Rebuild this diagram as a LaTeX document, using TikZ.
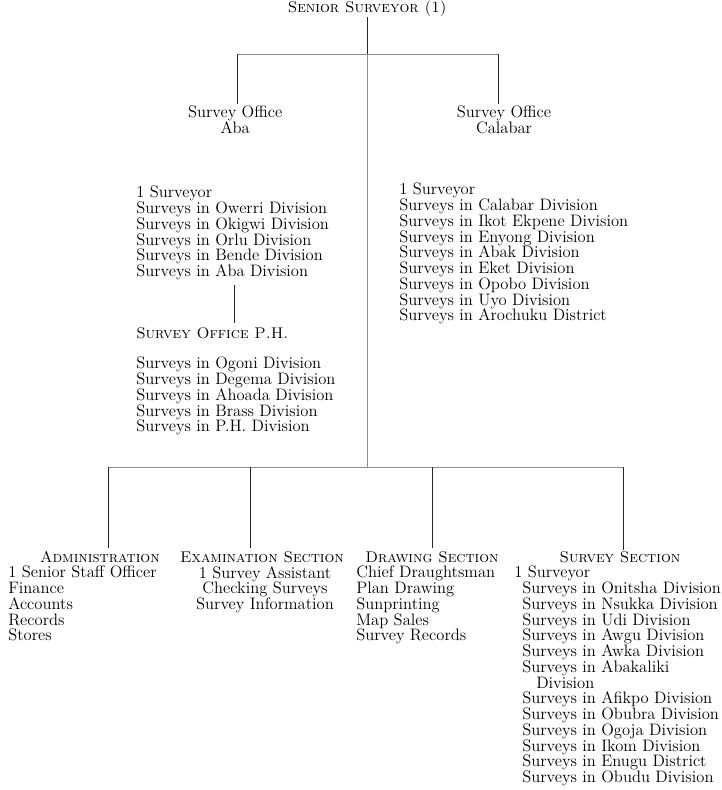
\documentclass[tikz,border=0pt]{standalone}
\usepackage{tikz}
\usetikzlibrary{positioning}

\begin{document}
\begin{tikzpicture}[
    office/.style={align=center, inner sep=0pt, font=\fontsize{11.8}{11.2}\selectfont},
    duties/.style={align=left, inner sep=0pt, anchor=north west, font=\fontsize{11.8}{11.2}\selectfont},
    heading/.style={inner sep=0pt, font=\fontsize{11}{11.2}\selectfont\scshape},
    link/.style={line width=0.6pt, black!85},
    rail/.style={line width=0.4pt, black!45},
]
\useasboundingbox (0,0) rectangle (18.05,-19.75);

% Head of the department
\node[heading, anchor=north] (chief) at (9.18,-0.02) {Senior Surveyor (1)};
\coordinate (topmid) at (9.18,-1.35);
\coordinate (topL) at (5.925,-1.35);
\coordinate (topR) at (12.45,-1.35);

\draw[link] (chief) -- (topmid);
\draw[rail] (topL) -- (topR);

% Survey offices
\node[office] (aba) at (5.88,-2.99) {Survey Office\\Aba};
\node[office] (calabar) at (12.6,-2.99) {Survey Office\\Calabar};

\draw[link, shorten >=1pt] (topL) -- (topL |- aba.north);
\draw[link, shorten >=1pt] (topR) -- (topR |- calabar.north);

\node[duties] (abalist) at (3.4,-4.65) {1 Surveyor\\Surveys in Owerri Division\\Surveys in Okigwi Division\\Surveys in Orlu Division\\Surveys in Bende Division\\Surveys in Aba Division};
\node[heading, anchor=north west] (phhead) at (3.4,-8.175) {Survey Office P.H.};
\node[duties, below=0.45cm of phhead.south west, anchor=north west] (phlist) {Surveys in Ogoni Division\\Surveys in Degema Division\\Surveys in Ahoada Division\\Surveys in Brass Division\\Surveys in P.H. Division};

\draw[link, shorten <=3pt, shorten >=3pt] (abalist.south -| 5.85,0) -- (phhead.north -| 5.85,0);

\node[duties] (calist) at (9.975,-4.575) {1 Surveyor\\Surveys in Calabar Division\\Surveys in Ikot Ekpene Division\\Surveys in Enyong Division\\Surveys in Abak Division\\Surveys in Eket Division\\Surveys in Opobo Division\\Surveys in Uyo Division\\Surveys in Arochuku District};

% Headquarters sections
\coordinate (botmid) at (9.18,-11.675);
\coordinate (b1) at (2.7,-11.675);
\coordinate (b2) at (6.25,-11.675);
\coordinate (b3) at (10.8,-11.675);
\coordinate (b4) at (15.575,-11.675);

\draw[rail] (topmid) -- (botmid);
\draw[rail] (b1) -- (b4);

\node[heading, anchor=east] (admhead) at (4.0,-13.925) {Administration};
\node[heading] (exahead) at (6.55,-13.925) {Examination Section};
\node[heading] (drahead) at (10.8,-13.925) {Drawing Section};
\node[heading] (surhead) at (15.5,-13.925) {Survey Section};

\draw[link, shorten >=2pt] (b1) -- (b1 |- admhead.north);
\draw[link, shorten >=2pt] (b2) -- (b2 |- exahead.north);
\draw[link, shorten >=2pt] (b3) -- (b3 |- drahead.north);
\draw[link, shorten >=1pt] (b4) -- (b4 |- surhead.north);

\node[duties] (admlist) at (0.2,-14.15) {1 Senior Staff Officer\\Finance\\Accounts\\Records\\Stores};
\node[duties, align=center, anchor=north] (exalist) at (6.625,-14.15) {1 Survey Assistant\\Checking Surveys\\Survey Information};
\node[duties] (dralist) at (8.9,-14.15) {Chief Draughtsman\\Plan Drawing\\Sunprinting\\Map Sales\\Survey Records};
\node[duties] (surlist) at (12.85,-14.15) {1 Surveyor\\
  \hspace*{0.2cm}Surveys in Onitsha Division\\
  \hspace*{0.2cm}Surveys in Nsukka Division\\
  \hspace*{0.2cm}Surveys in Udi Division\\
  \hspace*{0.2cm}Surveys in Awgu Division\\
  \hspace*{0.2cm}Surveys in Awka Division\\
  \hspace*{0.2cm}Surveys in Abakaliki\\
  \hspace*{0.55cm}Division\\
  \hspace*{0.2cm}Surveys in Afikpo Division\\
  \hspace*{0.2cm}Surveys in Obubra Division\\
  \hspace*{0.2cm}Surveys in Ogoja Division\\
  \hspace*{0.2cm}Surveys in Ikom Division\\
  \hspace*{0.2cm}Surveys in Enugu District\\
  \hspace*{0.2cm}Surveys in Obudu Division};

\end{tikzpicture}
\end{document}
